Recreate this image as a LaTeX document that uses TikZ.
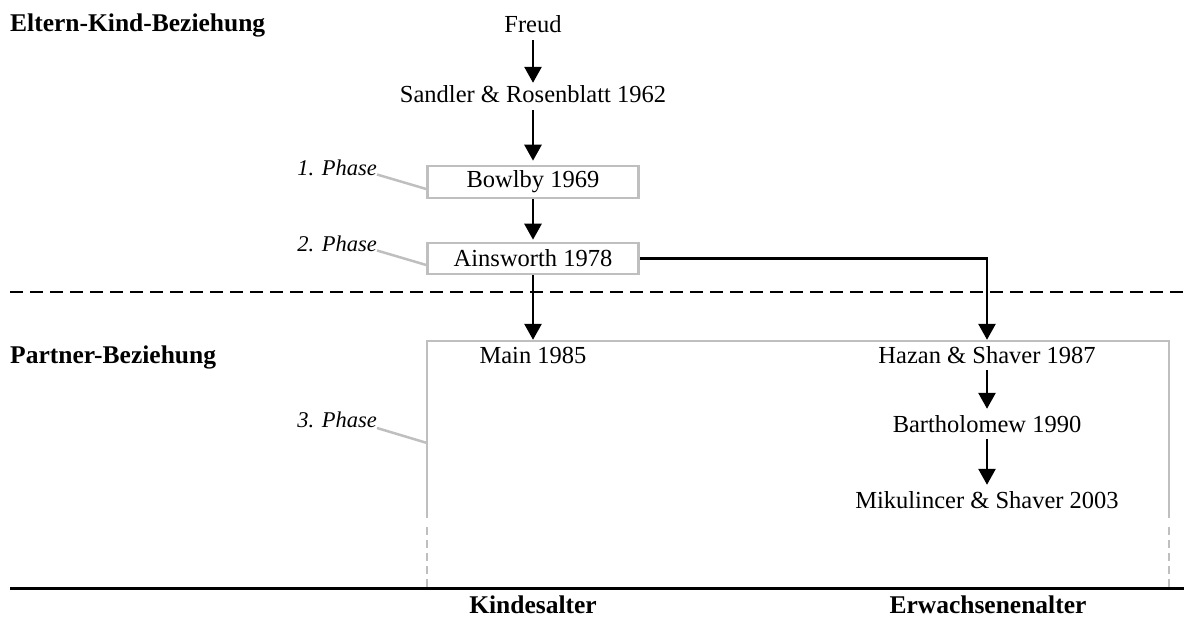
\documentclass[tikz,border=0pt]{standalone}
\usepackage{fontspec}
\setmainfont{Liberation Serif}
\usetikzlibrary{arrows.meta}
\definecolor{boxgray}{RGB}{191,191,191}
\begin{document}
\begin{tikzpicture}[x=1pt,y=-1pt,
  lbl/.style={font=\fontsize{24.5}{28}\selectfont, text height=16pt, text depth=0pt,
              inner xsep=0pt, inner ysep=7pt, anchor=base},
  phasebox/.style={draw=boxgray, line width=2.6pt, minimum width=211pt, minimum height=32pt,
              inner sep=0pt, font=\fontsize{24.5}{28}\selectfont},
  phase/.style={font=\fontsize{22.5}{25}\selectfont\itshape, inner sep=0pt, anchor=base east},
  heading/.style={font=\fontsize{25.5}{29}\selectfont\bfseries, inner sep=0pt},
  flow/.style={-{Triangle[width=17pt,length=16pt]}, line width=2.7pt},
  lead/.style={draw=boxgray, line width=2.5pt},
  frame/.style={draw=boxgray, line width=2.6pt}
]
\useasboundingbox (0,0) rectangle (1194,620);

% era separators
\draw[line width=2.5pt, dash pattern=on 13pt off 7pt] (10,292) -- (1184,292);

% frame of the third phase
\draw[frame] (427,518) -- (427,341) -- (1169,341) -- (1169,518);
\draw[frame, dash pattern=on 8pt off 5pt] (427,527) -- (427,588);
\draw[frame, dash pattern=on 8pt off 5pt] (1169,527) -- (1169,588);
\coordinate (p3end) at (427,443);

\draw[line width=3pt] (10,588) -- (1184,588);

% headings
\node[heading, anchor=base west] (hElt) at (10,32) {Eltern-Kind-Beziehung};
\node[heading, anchor=base west] (hPar) at (10,363) {Partner-Beziehung};
\node[heading, anchor=base] (hKind) at (533,613) {Kindesalter};
\node[heading, anchor=base] (hErw) at (988,613) {Erwachsenenalter};

% authors
\node[lbl] (freud) at (533,33) {Freud};
\node[lbl] (sandler) at (533,103) {Sandler \& Rosenblatt 1962};
\node[phasebox] (bowlby) at (533,182) {Bowlby 1969};
\node[phasebox, minimum height=31pt] (ainsworth) at (533,258.5) {Ainsworth 1978};
\node[lbl] (main) at (533,363) {Main 1985};
\node[lbl] (hazan) at (987,363) {Hazan \& Shaver 1987};
\node[lbl] (bart) at (987,432) {Bartholomew 1990};
\node[lbl] (miku) at (987,508) {Mikulincer \& Shaver 2003};

% lines of influence
\draw[flow, shorten >=-3pt] (freud) -- (sandler);
\draw[flow, shorten >=4pt] (sandler) -- (bowlby);
\draw[flow, shorten >=2pt] (bowlby) -- (ainsworth);
\draw[flow] (ainsworth) -- (main);
\draw[flow] (ainsworth.east) -| (hazan.north);
\draw[flow] (hazan) -- (bart);
\draw[flow] (bart) -- (miku);

% phase labels
\node[phase] (ph1) at (377,176) {1. Phase};
\node[phase] (ph2) at (377,252) {2. Phase};
\node[phase] (ph3) at (377,427) {3. Phase};
\draw[lead] ([yshift=1.5pt]ph1.base east) -- ([yshift=-7pt]bowlby.west);
\draw[lead] ([yshift=1.5pt]ph2.base east) -- ([yshift=-6.5pt]ainsworth.west);
\draw[lead] ([yshift=-1pt]ph3.base east) -- (p3end);
\end{tikzpicture}
\end{document}
